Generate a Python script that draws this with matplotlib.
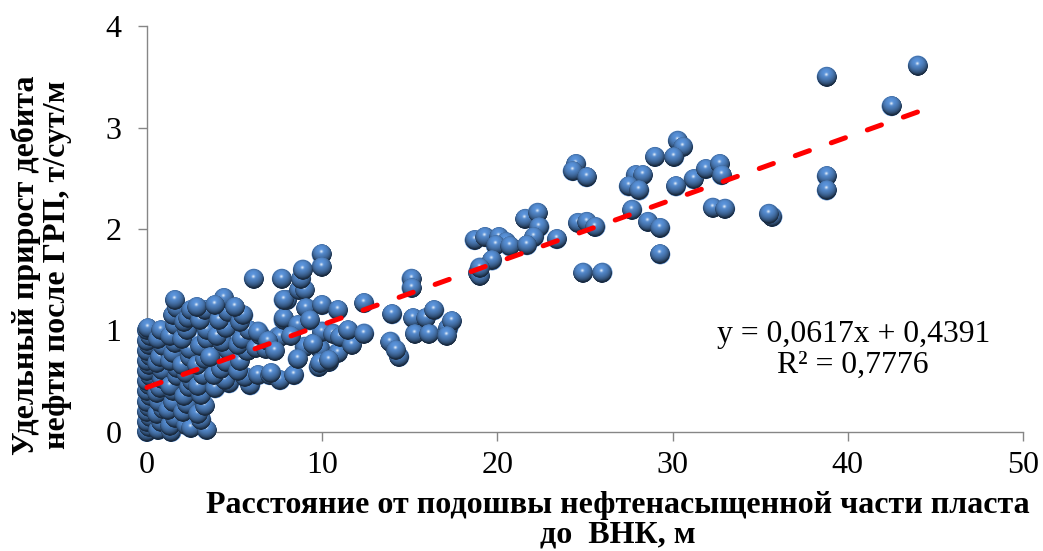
import numpy as np
import matplotlib
matplotlib.use("Agg")
import matplotlib.pyplot as plt
from matplotlib.offsetbox import OffsetImage, AnnotationBbox

# Distance from the bottom of the oil-saturated interval to the OWC, m
distance_m = [
    # near-zero column
    0.0, 0.1, 0.0, 0.2, 0.0, 0.1, 0.0, 0.2, 0.0, 0.1, 0.0, 0.2, 0.0, 0.1, 0.0, 0.2,
    0.0, 0.1, 0.0, 0.2, 0.0, 0.05,
    0.65, 0.8, 0.6, 0.93, 0.7, 0.55, 0.74, 0.85, 0.84, 0.6, 0.74, 0.9, 0.65, 0.8,
    1.4, 1.3, 1.6, 1.2, 1.5, 1.5, 1.3, 1.7, 1.7, 1.3, 1.5, 1.6, 1.3, 1.6, 1.5, 1.7, 1.6,
    2.2, 2.5, 2.07, 2.3, 2.1, 2.4, 2.55, 2.2, 2.0, 2.45, 2.45, 2.0, 2.3, 2.1, 2.36, 2.5,
    3.4, 3.1, 2.9, 3.3, 3.1, 2.9, 3.2, 2.84, 3.3, 3.0, 3.4, 3.4, 3.0, 3.3, 2.84,
    3.9, 4.7, 4.45, 3.8, 4.2, 4.5, 3.6, 4.64, 4.26, 4.0, 4.5, 4.1, 4.6, 4.4, 3.9,
    5.9, 5.6, 5.2, 5.3, 5.7, 5.2, 5.4, 5.8, 5.3, 5.5, 5.0,
    # 6-12 m
    6.2, 6.35, 7.0, 7.6, 7.1, 6.8, 6.45, 6.35, 7.5, 7.6, 7.8, 7.8, 6.1, 7.7, 8.0, 7.8,
    6.9, 7.3,
    8.4, 8.7, 9.0, 8.8, 8.9, 9.97, 9.97, 9.1, 10.0, 10.9, 9.0, 9.9, 10.9, 10.4, 9.8,
    9.9, 10.4, 10.0, 10.6, 9.5, 11.0, 11.7, 11.5, 8.6, 9.3, 8.2, 8.6,
    # 12-18 m
    12.4, 12.4, 14.0, 13.9, 14.4, 14.2, 15.1, 15.1, 15.2, 15.9, 16.4, 17.2, 17.4,
    15.3, 16.1, 17.1,
    # 18-27 m
    18.7, 19.3, 20.1, 20.5, 19.9, 20.7, 19.7, 18.9, 19.0, 21.6, 22.3, 22.4, 22.1,
    21.7, 23.4, 24.5, 24.3, 25.1, 24.6, 25.1, 25.6, 24.9, 26.0, 19.0,
    # 27-44 m
    30.3, 30.6, 29.0, 30.1, 27.9, 28.3, 27.5, 28.1, 30.2, 31.2, 31.9, 32.7, 32.8,
    27.7, 28.6, 29.3, 29.3, 32.3, 33.0, 35.7, 35.5,
    38.8, 44.0, 42.5, 38.8, 38.8,
]

# Specific production gain after hydraulic fracturing, t/day/m
gain = [
    0.00, 0.05, 0.10, 0.15, 0.20, 0.25, 0.30, 0.35, 0.40, 0.46, 0.50, 0.55, 0.60, 0.66,
    0.70, 0.75, 0.80, 0.86, 0.90, 0.95, 1.00, 1.02,
    0.02, 0.10, 0.18, 0.23, 0.30, 0.38, 0.43, 0.52, 0.61, 0.68, 0.74, 0.85, 0.92, 1.00,
    0.00, 0.06, 0.14, 0.22, 0.30, 0.40, 0.45, 0.55, 0.63, 0.70, 0.78, 0.88, 0.95, 1.05,
    1.15, 1.22, 1.30,
    0.07, 0.04, 0.20, 0.28, 0.35, 0.44, 0.50, 0.58, 0.66, 0.74, 0.82, 0.92, 1.00, 1.08,
    1.12, 1.20,
    0.02, 0.12, 0.18, 0.26, 0.36, 0.45, 0.56, 0.66, 0.72, 0.85, 0.92, 1.00, 1.10, 1.20,
    1.23,
    0.43, 0.48, 0.51, 0.56, 0.62, 0.69, 0.74, 0.81, 0.89, 0.95, 1.02, 1.10, 1.18, 1.32,
    1.25,
    0.46, 0.54, 0.60, 0.70, 0.80, 0.86, 0.92, 1.00, 1.08, 1.15, 1.23,
    0.83, 0.56, 0.56, 0.51, 0.58, 0.82, 0.96, 0.99, 0.94, 0.94, 1.10, 1.12, 1.51, 1.51,
    1.30, 1.30, 0.90, 0.80,
    0.56, 1.40, 1.40, 1.51, 1.60, 1.75, 1.63, 1.22, 1.25, 1.20, 0.84, 0.82, 0.78, 0.69,
    0.64, 0.68, 0.71, 0.99, 0.97, 0.87, 0.94, 0.86, 1.00, 1.05, 1.10, 0.95, 0.72,
    1.27, 0.97, 1.16, 0.89, 0.74, 0.81, 1.51, 1.42, 1.12, 1.12, 1.20, 1.02, 1.09,
    0.97, 0.97, 0.95,
    1.89, 1.92, 1.92, 1.87, 1.84, 1.83, 1.69, 1.57, 1.54, 2.10, 2.16, 2.02, 1.92,
    1.84, 1.90, 2.64, 2.57, 2.51, 2.06, 2.07, 2.02, 1.57, 1.57, 1.62,
    2.87, 2.81, 2.71, 2.71, 2.53, 2.53, 2.42, 2.38, 2.42, 2.49, 2.59, 2.64, 2.53,
    2.19, 2.07, 2.01, 1.75, 2.21, 2.20, 2.12, 2.15,
    3.50, 3.61, 3.21, 2.52, 2.38,
]

# Linear trend as reported on the chart
slope = 0.0617
intercept = 0.4391
r_squared = 0.7776

x_ticks = [0, 10, 20, 30, 40, 50]
y_ticks = [0, 1, 2, 3, 4]

x_label = "Расстояние от подошвы нефтенасыщенной части пласта\nдо  ВНК, м"
y_label = "Удельный прирост дебита\nнефти после ГРП, т/сут/м"

SERIF = ["Liberation Serif", "DejaVu Serif"]
AXIS_GREY = "#868686"
BALL_BLUE = np.array([0.31, 0.51, 0.76])


def sphere_sprite(n=80, base=BALL_BLUE):
    """RGBA image of a shaded ball lit from the upper front."""
    yy, xx = np.mgrid[-1:1:n * 1j, -1:1:n * 1j]
    yu = -yy
    r = np.sqrt(xx ** 2 + yy ** 2)
    z = np.sqrt(np.clip(1 - r ** 2, 0, 1))
    light = np.array([-0.12, 0.50, 0.86])
    light = light / np.linalg.norm(light)
    diff = np.clip(xx * light[0] + yu * light[1] + z * light[2], 0, 1)
    # specular highlight (Blinn)
    h = light + np.array([0, 0, 1.0])
    h = h / np.linalg.norm(h)
    spec = np.clip(xx * h[0] + yu * h[1] + z * h[2], 0, 1) ** 80
    rgb = base[None, None, :] * (0.35 + 0.78 * diff[..., None])
    # faint bounce light along the lower rim
    rim = np.clip((r - 0.78) / 0.22, 0, 1) * np.clip(-yu, 0, 1)
    rgb = rgb * (1 - 0.40 * rim[..., None]) + 0.12 * rim[..., None] * base
    rgb = rgb + spec[..., None] * (1 - rgb) * 0.75
    rgb = np.clip(rgb, 0, 1)
    alpha = np.clip((1 - r) * n / 2.0, 0, 1)
    return np.dstack([rgb, alpha])


fig = plt.figure(figsize=(10.43, 5.51), dpi=100)
ax = fig.add_axes([0.1409, 0.2160, 0.8399, 0.7368])

ax.set_xlim(0, 50)
ax.set_ylim(0, 4)

ball_px = 20.0
ball_pt = ball_px * 72 / fig.dpi
ax.scatter(distance_m, gain, s=ball_pt ** 2, color=BALL_BLUE, edgecolors="none",
           zorder=2, clip_on=False)

sprite = sphere_sprite()
zoom = ball_px / (sprite.shape[0] * fig.dpi / 72.0)
for xv, yv in zip(distance_m, gain):
    im = OffsetImage(sprite, zoom=zoom, interpolation="antialiased")
    ab = AnnotationBbox(im, (xv, yv), xycoords="data", frameon=False, pad=0,
                        box_alignment=(0.5, 0.5), annotation_clip=False, zorder=3)
    ax.add_artist(ab)

# trend line over the data range
x_fit = np.array([min(distance_m), max(distance_m)])
y_fit = slope * x_fit + intercept
ax.plot(x_fit, y_fit, color="#ff0000", lw=3.6, dashes=(3.0, 4.65),
        dash_capstyle="round", zorder=5, clip_on=False)

ax.text(0.818, 0.365,
        f"y = {slope:.4f}x + {intercept:.4f}".replace(".", ",")
        + "\n" + f"R² = {r_squared:.4f}".replace(".", ","),
        transform=fig.transFigure, ha="center", va="center", multialignment="center",
        fontsize=22.8, family=SERIF, linespacing=1.1, zorder=6)

for side in ("top", "right"):
    ax.spines[side].set_visible(False)
for side in ("left", "bottom"):
    ax.spines[side].set_color(AXIS_GREY)
    ax.spines[side].set_linewidth(1.0)

ax.set_xticks(x_ticks)
ax.set_yticks(y_ticks)
ax.tick_params(axis="both", direction="out", length=6.5, width=1.0, color=AXIS_GREY,
               labelsize=23, labelcolor="black")
ax.tick_params(axis="x", pad=7)
ax.tick_params(axis="y", pad=12)
for lab in ax.get_xticklabels() + ax.get_yticklabels():
    lab.set_family(SERIF)

fig.text(0.592, 0.056, x_label, ha="center", va="center", multialignment="center",
         fontsize=23, fontweight="bold", family=SERIF, linespacing=1.05)
fig.text(0.040, 0.519, y_label, ha="center", va="center", multialignment="center",
         rotation=90, fontsize=23, fontweight="bold", family=SERIF, linespacing=1.1)

fig.savefig("out.png", dpi=100)
